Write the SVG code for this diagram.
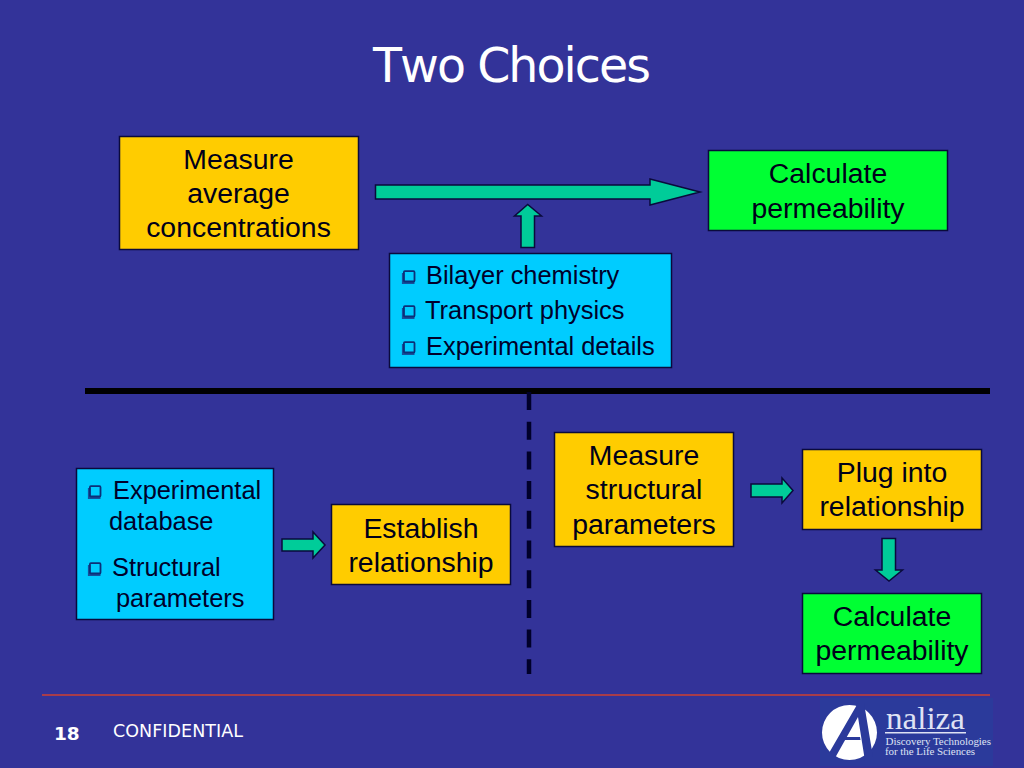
<svg xmlns="http://www.w3.org/2000/svg" width="1024" height="768" viewBox="0 0 1024 768">
<style>
text{font-family:"Liberation Sans",Arial,sans-serif;fill:#000}
.b{font-size:28.4px;text-anchor:middle;fill:#00001a}
.l{font-size:25.4px;fill:#00002a}
.box{stroke:#0a0a3c;stroke-width:1.5}
.y{fill:#ffcc00}.g{fill:#00ff33}.c{fill:#00ccff}
.ar{fill:#00cc99;stroke:#0a0a3c;stroke-width:1.5;stroke-linejoin:miter}
.sq{fill:none;stroke:#0c2f78;stroke-width:1.8}
.sh{fill:none;stroke:#14509c;stroke-width:2.6}
.f{font-family:"DejaVu Sans",sans-serif;fill:#fff}
.s{font-family:"Liberation Serif",serif;fill:#dfe2f4}
</style>
<defs>
<g id="bullet"><path class="sh" d="M1.200 3V12.600H12.500"/><rect class="sq" x="1.900" y="1.200" width="10.600" height="10.300" rx="1"/></g>
</defs>
<rect width="1024" height="768" fill="#333399"/>
<text id="title" class="f" x="373" y="82" font-size="47.500" textLength="278" style="font-kerning:none">Two Choices</text>

<g id="connectors">
<polygon class="ar" points="375.500,185 650,185 650,179 700,192 650,205 650,199 375.500,199"/>
<polygon class="ar" points="521,247.500 521,216 514.500,216 527.700,204.500 541.500,216 534.500,216 534.500,247.500"/>
<polygon class="ar" points="282,539 313,539 313,532 325,545 313,558 313,551 282,551"/>
<polygon class="ar" points="751,484 782,484 782,478 793,490.500 782,503 782,497 751,497"/>
<polygon class="ar" points="882,538.500 895.500,538.500 895.500,570 902.500,570 889,581 875.500,570 882,570"/>
<line x1="85" y1="391" x2="990" y2="391" stroke="#000" stroke-width="6"/>
<line x1="529" y1="392" x2="529" y2="674" stroke="#00002a" stroke-width="4.500" stroke-dasharray="18 11.700"/>
<line x1="42" y1="695" x2="990" y2="695" stroke="#d04030" stroke-width="1.500"/>
</g>

<g id="n1"><rect class="box y" x="119.500" y="136.500" width="239" height="113"/>
<text class="b" x="238.500" y="169">Measure</text><text class="b" x="238.500" y="203">average</text><text class="b" x="238.500" y="237">concentrations</text></g>
<g id="n2"><rect class="box g" x="708.500" y="150.500" width="239" height="80"/>
<text class="b" x="828" y="183">Calculate</text><text class="b" x="828" y="218">permeability</text></g>
<g id="n3"><rect class="box c" x="389.500" y="253.500" width="282" height="114"/>
<use href="#bullet" x="402" y="270"/><text class="l" x="426" y="284">Bilayer chemistry</text>
<use href="#bullet" x="402" y="305"/><text class="l" x="425" y="319">Transport physics</text>
<use href="#bullet" x="402" y="341"/><text class="l" x="426" y="355">Experimental details</text></g>
<g id="n4"><rect class="box c" x="76.500" y="468.500" width="197" height="151"/>
<use href="#bullet" x="88" y="485"/><text class="l" x="113" y="499">Experimental</text>
<text class="l" x="109" y="530">database</text>
<use href="#bullet" x="88" y="562"/><text class="l" x="112" y="576">Structural</text>
<text class="l" x="116" y="607">parameters</text></g>
<g id="n5"><rect class="box y" x="331.500" y="504.500" width="179" height="80"/>
<text class="b" x="421" y="538">Establish</text><text class="b" x="421" y="572">relationship</text></g>
<g id="n6"><rect class="box y" x="554.500" y="432.500" width="179" height="114"/>
<text class="b" x="644" y="465">Measure</text><text class="b" x="644" y="499">structural</text><text class="b" x="644" y="534">parameters</text></g>
<g id="n7"><rect class="box y" x="802.500" y="449.500" width="179" height="80"/>
<text class="b" x="892" y="482">Plug into</text><text class="b" x="892" y="516">relationship</text></g>
<g id="n8"><rect class="box g" x="802.500" y="593.500" width="179" height="80"/>
<text class="b" x="892" y="626">Calculate</text><text class="b" x="892" y="660">permeability</text></g>

<g id="footer">
<text class="f" x="54" y="740" font-size="18.500" font-weight="bold">18</text>
<text class="f" x="113" y="737" font-size="17.500" textLength="130">CONFIDENTIAL</text>
</g>
<g id="logo">
<rect x="820" y="698" width="173" height="68" fill="#2b3a9b"/>
<circle cx="849.500" cy="732.500" r="27.500" fill="#fff"/>
<polygon points="858,703 864,703 873,757 865,761 858,717 835,758 829,753" fill="#2b3a9b"/>
<polygon points="843,737 860,737 860.500,740 841.500,740" fill="#2b3a9b"/>
<text class="s" x="886" y="729" font-size="31" textLength="79" lengthAdjust="spacingAndGlyphs">naliza</text>
<rect x="885" y="732" width="81" height="1.500" fill="#dfe2f4"/>
<text class="s" x="885.500" y="745" font-size="11" textLength="105.500">Discovery Technologies</text>
<text class="s" x="885" y="755" font-size="11" textLength="90">for the Life Sciences</text>
</g>
</svg>
